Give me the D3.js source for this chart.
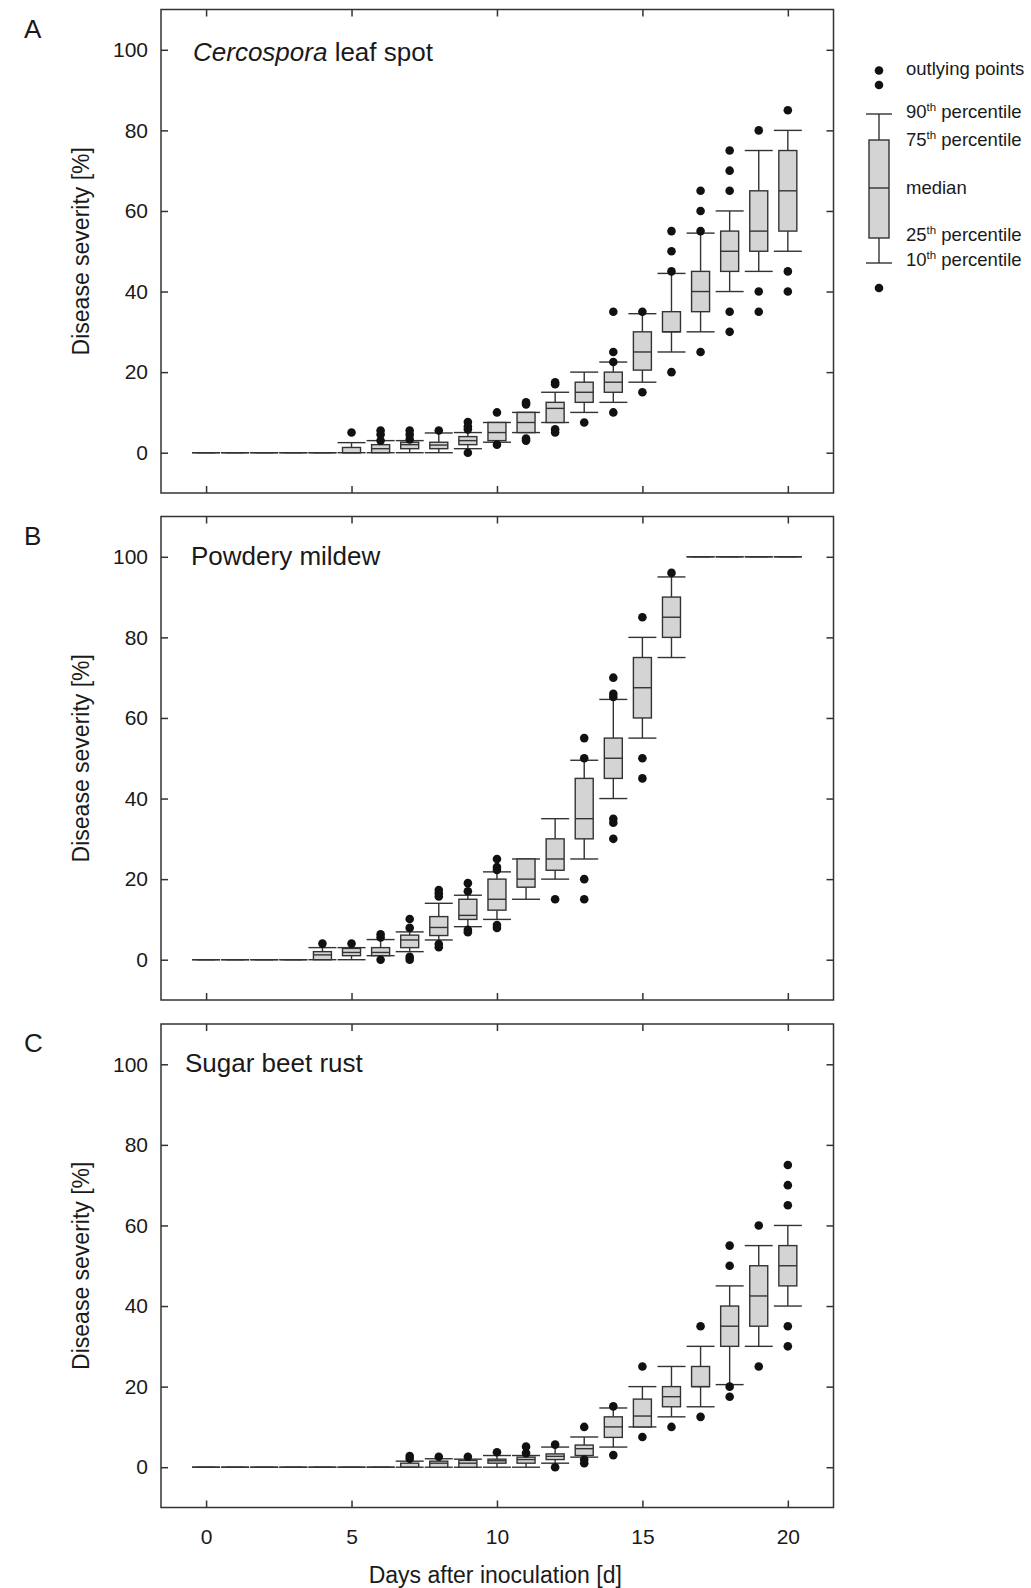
<!DOCTYPE html>
<html>
<head>
<meta charset="utf-8">
<title>Disease severity</title>
<script src="https://cdn.jsdelivr.net/npm/d3@7"></script>
<style>
body { margin: 0; background: #fff; }
svg { font-family: "Liberation Sans", Arial, sans-serif; }
.frame { fill: none; stroke: #333; stroke-width: 1.5; }
.tick line { stroke: #333; stroke-width: 1.5; }
.box { fill: #d4d4d4; stroke: #333; stroke-width: 1.4; }
.wh { stroke: #333; stroke-width: 1.4; }
.dot { fill: #111; }
</style>
</head>
<body>
<script>

// days 0..20
var days = d3.range(0, 21);
var yTicks = [0, 20, 40, 60, 80, 100];
var xTicks = [0, 5, 10, 15, 20];

// Cercospora leaf spot
var cercP10 = [0,0,0,0,0, 0,0,0,0,1, 2.6,5,7.5,10,12.5, 17.5,25,30,40,45, 50];
var cercP25 = [0,0,0,0,0, 0,0,1,1,2, 3,5,7.5,12.5,15, 20.5,30,35,45,50, 55];
var cercMed = [0,0,0,0,0, 0,1,2,1.9,3, 5,7.5,11,15,17.5, 25,30,40,50,55, 65];
var cercP75 = [0,0,0,0,0, 1.3,2,2.6,2.6,4, 7.5,10,12.5,17.5,20, 30,35,45,55,65, 75];
var cercP90 = [0,0,0,0,0, 2.5,3,3,4.9,5, 7.5,10,15,20,22.5, 34.5,44.5,54.5,60,75, 80];
var cercOut = [[],[],[],[],[], [5],[5.5,4.5,3],[5.5,4.5,3.3],[5.5],[7.6,6.5,5.8,0],
  [10,2],[12.5,12,3.5,3],[17.5,17,5.8,5],[7.5],[35,25,22.5,10],
  [35,15],[55,50,45,20],[65,60,55,25],[75,70,65,35,30],[80,40,35],[85,45,40]];

// Powdery mildew
var pmP10 = [0,0,0,0,0, 0,1,2,4.9,8.2, 10,15,20,25,40, 55,75,100,100,100, 100];
var pmP25 = [0,0,0,0,0, 1,1,3,6,10, 12.3,18,22.2,30,45, 60,80,100,100,100, 100];
var pmMed = [0,0,0,0,1.2, 1.8,1.8,4.9,8,11, 15,20,25,35,50, 67.5,85,100,100,100, 100];
var pmP75 = [0,0,0,0,2, 2.8,3,6.1,10.7,15, 20,25,30,45,55, 75,90,100,100,100, 100];
var pmP90 = [0,0,0,0,3, 3,5,6.9,14,16, 21.8,25,35,49.5,64.6, 80,95,100,100,100, 100];
var pmOut = [[],[],[],[],[4], [4],[6.3,5.5,0],[10.1,7.9,0.7,0],[17.3,16.5,15.7,3.9,3.1],[19,17,7.4,6.8],
  [25,23,22.3,8.6,7.9],[],[15],[55,50,20,15],[70,66,65.2,35,34,30],
  [85,50,45],[96],[],[],[],[]];

// Sugar beet rust
var rustP10 = [0,0,0,0,0, 0,0,0,0,0, 0,0,1,2.5,5, 10,12.5,15,20.5,30, 40];
var rustP25 = [0,0,0,0,0, 0,0,0,0,0, 1,1,1.9,2.9,7.4, 10,15,20,30,35, 45];
var rustMed = [0,0,0,0,0, 0,0,0,1,1, 1.6,1.9,2.7,4.6,10, 12.7,17.5,20,35,42.5, 50];
var rustP75 = [0,0,0,0,0, 0,0,1,1.5,1.7, 2,2.5,3.3,5.5,12.5, 16.9,20,25,40,50, 55];
var rustP90 = [0,0,0,0,0, 0,0,1.5,2.1,2, 2.9,2.9,5,7.5,14.7, 20,25,30,45,55, 60];
var rustOut = [[],[],[],[],[], [],[],[2.8,2.1],[2.6],[2.6],
  [3.7],[5.1,3.5],[5.6,0],[10,1.9,1],[15.1,3],
  [25,7.5],[10],[35,12.5],[55,50,20,17.5],[60,25],[75,70,65,35,30]];

var panels = [
  {letter: "A", title: "Cercospora", rest: " leaf spot", tx: 193, ty: 51,
   p10: cercP10, p25: cercP25, med: cercMed, p75: cercP75, p90: cercP90, out: cercOut},
  {letter: "B", title: "", rest: "Powdery mildew", tx: 191, ty: 48,
   p10: pmP10, p25: pmP25, med: pmMed, p75: pmP75, p90: pmP90, out: pmOut},
  {letter: "C", title: "", rest: "Sugar beet rust", tx: 185, ty: 48,
   p10: rustP10, p25: rustP25, med: rustMed, p75: rustP75, p90: rustP90, out: rustOut}
];

var legendLabels = [
  {t: "outlying points", sup: "", y: 69},
  {t: "90", sup: "th", rest: " percentile", y: 112},
  {t: "75", sup: "th", rest: " percentile", y: 140},
  {t: "median", sup: "", y: 188},
  {t: "25", sup: "th", rest: " percentile", y: 235},
  {t: "10", sup: "th", rest: " percentile", y: 260}
];

var W = 1031, H = 1588;
var left = 161, right = 833.5;
var tops = [9.5, 516.5, 1024];
var ph = 483.5;
var boxW = 18, capW = 28;

var svg = d3.select("body").append("svg")
  .attr("width", W).attr("height", H);

var x = d3.scaleLinear().domain([-1.55, 21.57]).range([left, right]);

panels.forEach(function(p, i) {
  var top = tops[i];
  var y = d3.scaleLinear().domain([-10, 110]).range([top + ph, top]);
  var g = svg.append("g");

  // axes: ticks inside on all 4 sides
  g.append("g").attr("transform", "translate(" + left + ",0)")
    .call(d3.axisLeft(y).tickValues(yTicks).tickSize(-7).tickPadding(13));
  g.append("g").attr("transform", "translate(" + right + ",0)")
    .call(d3.axisRight(y).tickValues(yTicks).tickSize(-7).tickFormat(""));
  g.append("g").attr("transform", "translate(0," + top + ")")
    .call(d3.axisTop(x).tickValues(xTicks).tickSize(-7).tickFormat(""));
  g.append("g").attr("transform", "translate(0," + (top + ph) + ")")
    .call(d3.axisBottom(x).tickValues(xTicks).tickSize(-7).tickPadding(22)
      .tickFormat(i == 2 ? d3.format("d") : ""));
  g.selectAll(".domain").remove();
  g.selectAll(".tick text").attr("font-size", 21).attr("fill", "#1a1a1a")
    .attr("font-family", "Liberation Sans, Arial, sans-serif");

  g.append("rect").attr("class", "frame")
    .attr("x", left).attr("y", top).attr("width", right - left).attr("height", ph);

  // boxes
  days.forEach(function(d, j) {
    var cx = x(d);
    g.append("line").attr("class", "wh")
      .attr("x1", cx).attr("x2", cx).attr("y1", y(p.p90[j])).attr("y2", y(p.p75[j]));
    g.append("line").attr("class", "wh")
      .attr("x1", cx).attr("x2", cx).attr("y1", y(p.p25[j])).attr("y2", y(p.p10[j]));
    g.append("line").attr("class", "wh")
      .attr("x1", cx - capW / 2).attr("x2", cx + capW / 2).attr("y1", y(p.p90[j])).attr("y2", y(p.p90[j]));
    g.append("line").attr("class", "wh")
      .attr("x1", cx - capW / 2).attr("x2", cx + capW / 2).attr("y1", y(p.p10[j])).attr("y2", y(p.p10[j]));
    g.append("rect").attr("class", "box")
      .attr("x", cx - boxW / 2).attr("width", boxW)
      .attr("y", y(p.p75[j])).attr("height", y(p.p25[j]) - y(p.p75[j]));
    g.append("line").attr("class", "wh")
      .attr("x1", cx - boxW / 2).attr("x2", cx + boxW / 2).attr("y1", y(p.med[j])).attr("y2", y(p.med[j]));
    g.selectAll(null).data(p.out[j]).enter().append("circle").attr("class", "dot")
      .attr("cx", cx).attr("cy", function(v) { return y(v); }).attr("r", 4.3);
  });

  // panel letter and title
  svg.append("text").attr("x", 24).attr("y", top + 28).attr("font-size", 26)
    .attr("fill", "#1a1a1a").text(p.letter);
  var t = svg.append("text").attr("x", p.tx).attr("y", top + p.ty)
    .attr("font-size", 26).attr("fill", "#1a1a1a");
  if (p.title) t.append("tspan").attr("font-style", "italic").text(p.title);
  t.append("tspan").text(p.rest);

  // y title
  svg.append("text")
    .attr("transform", "translate(89," + (top + ph / 2) + ") rotate(-90)")
    .attr("text-anchor", "middle").attr("font-size", 23).attr("fill", "#1a1a1a")
    .text("Disease severity [%]");
});

// x title
svg.append("text").attr("x", (left + right) / 2 - 2).attr("y", 1583)
  .attr("text-anchor", "middle").attr("font-size", 23).attr("fill", "#1a1a1a")
  .text("Days after inoculation [d]");

// legend
var lg = svg.append("g");
var lx = 879;
lg.append("circle").attr("class", "dot").attr("cx", lx).attr("cy", 70.5).attr("r", 4.3);
lg.append("circle").attr("class", "dot").attr("cx", lx).attr("cy", 85).attr("r", 4.3);
lg.append("circle").attr("class", "dot").attr("cx", lx).attr("cy", 288).attr("r", 4.3);
lg.append("line").attr("class", "wh").attr("x1", lx).attr("x2", lx).attr("y1", 114).attr("y2", 263);
lg.append("line").attr("class", "wh").attr("x1", lx - 13).attr("x2", lx + 13).attr("y1", 114).attr("y2", 114);
lg.append("line").attr("class", "wh").attr("x1", lx - 13).attr("x2", lx + 13).attr("y1", 263).attr("y2", 263);
lg.append("rect").attr("class", "box").attr("x", lx - 10).attr("width", 20).attr("y", 140).attr("height", 98);
lg.append("line").attr("class", "wh").attr("x1", lx - 10).attr("x2", lx + 10).attr("y1", 188).attr("y2", 188);

legendLabels.forEach(function(l) {
  var t = lg.append("text").attr("x", 906).attr("y", l.y + 6)
    .attr("font-size", 18.5).attr("fill", "#1a1a1a");
  t.append("tspan").text(l.t);
  if (l.sup) {
    t.append("tspan").attr("font-size", 11.5).attr("dy", -7).text(l.sup);
    t.append("tspan").attr("dy", 7).text(l.rest);
  }
});

</script>
</body>
</html>
